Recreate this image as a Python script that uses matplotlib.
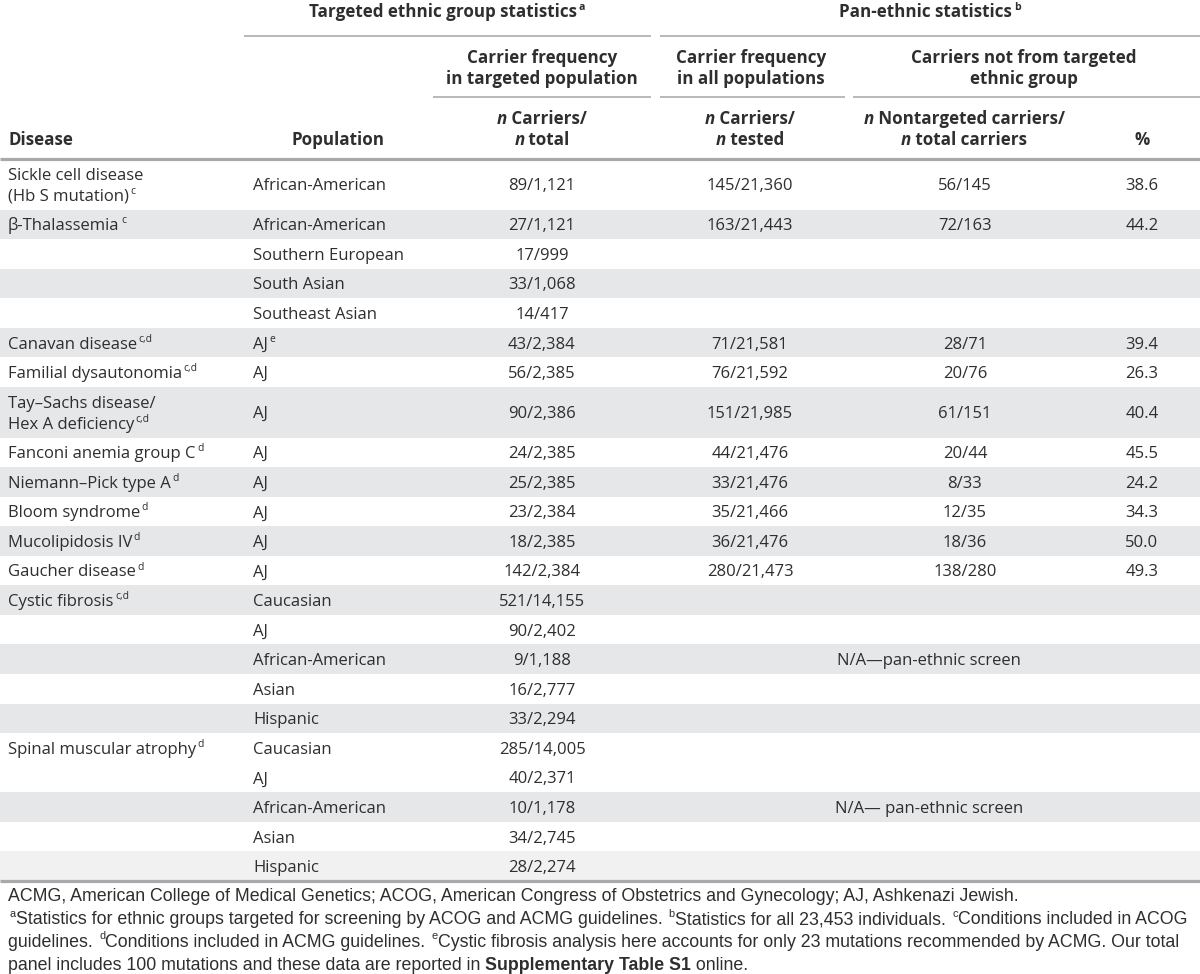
import matplotlib
matplotlib.use("Agg")
import matplotlib.pyplot as plt
from matplotlib.patches import Rectangle

# ---------------- data ----------------
diseases = ["Sickle cell disease\n(Hb S mutation)", "β-Thalassemia", "", "", "",
            "Canavan disease", "Familial dysautonomia", "Tay–Sachs disease/\nHex A deficiency",
            "Fanconi anemia group C", "Niemann–Pick type A", "Bloom syndrome",
            "Mucolipidosis IV", "Gaucher disease", "Cystic fibrosis", "", "", "", "",
            "Spinal muscular atrophy", "", "", "", ""]
disease_notes = ["c", "c", "", "", "", "c,d", "c,d", "c,d", "d", "d", "d", "d", "d",
                 "c,d", "", "", "", "", "d", "", "", "", ""]
populations = ["African-American", "African-American", "Southern European", "South Asian",
               "Southeast Asian", "AJ", "AJ", "AJ", "AJ", "AJ", "AJ", "AJ", "AJ",
               "Caucasian", "AJ", "African-American", "Asian", "Hispanic",
               "Caucasian", "AJ", "African-American", "Asian", "Hispanic"]
population_notes = ["", "", "", "", "", "e"] + [""] * 17
targeted_freq = ["89/1,121", "27/1,121", "17/999", "33/1,068", "14/417", "43/2,384",
                 "56/2,385", "90/2,386", "24/2,385", "25/2,385", "23/2,384", "18/2,385",
                 "142/2,384", "521/14,155", "90/2,402", "9/1,188", "16/2,777", "33/2,294",
                 "285/14,005", "40/2,371", "10/1,178", "34/2,745", "28/2,274"]
all_pop_freq = ["145/21,360", "163/21,443", "", "", "", "71/21,581", "76/21,592",
                "151/21,985", "44/21,476", "33/21,476", "35/21,466", "36/21,476",
                "280/21,473"] + [""] * 10
nontargeted = ["56/145", "72/163", "", "", "", "28/71", "20/76", "61/151", "20/44",
               "8/33", "12/35", "18/36", "138/280"] + [""] * 10
percent = ["38.6", "44.2", "", "", "", "39.4", "26.3", "40.4", "45.5", "24.2", "34.3",
           "50.0", "49.3"] + [""] * 10
na_text = {15: "N/A—pan-ethnic screen", 20: "N/A— pan-ethnic screen"}
shading = [0, 1, 0, 1, 0, 1, 0, 1, 0, 1, 0, 1, 0, 1, 0, 1, 0, 1, 0, 0, 1, 0, 2]

footnote_lines = [
    [("ACMG, American College of Medical Genetics; ACOG, American Congress of Obstetrics and Gynecology; AJ, Ashkenazi Jewish.", "n")],
    [("a", "s"), ("Statistics for ethnic groups targeted for screening by ACOG and ACMG guidelines. ", "n"),
     ("b", "s"), ("Statistics for all 23,453 individuals. ", "n"),
     ("c", "s"), ("Conditions included in ACOG", "n")],
    [("guidelines. ", "n"), ("d", "s"), ("Conditions included in ACMG guidelines. ", "n"),
     ("e", "s"), ("Cystic fibrosis analysis here accounts for only 23 mutations recommended by ACMG. Our total", "n")],
    [("panel includes 100 mutations and these data are reported in ", "n"),
     ("Supplementary Table S1", "b"), (" online.", "n")],
]

# ---------------- layout / style ----------------
W, H, DPI = 1200, 974, 100
BODY_FONT = ["Open Sans", "DejaVu Sans"]
NOTE_FONT = ["Liberation Sans", "DejaVu Sans"]
TXT = "#2e2e2e"
SHADE = {1: "#e6e7e8", 2: "#f1f1f2"}
RULE = "#a7a9ac"
PX = 72.0 / DPI  # points per pixel

BODY_PX = 16.6
HEAD_PX = 17.0
NOTE_PX = 17.8

fig = plt.figure(figsize=(W / DPI, H / DPI), dpi=DPI)
ax = fig.add_axes([0, 0, 1, 1])
ax.set_xlim(0, W)
ax.set_ylim(H, 0)
ax.axis("off")
renderer = fig.canvas.get_renderer()


def _props(kind, size_px, family):
    p = dict(family=family, fontsize=size_px * PX, color=TXT)
    if kind == "b":
        p["fontweight"] = "bold"
    elif kind == "i":
        p["fontstyle"] = "italic"
    elif kind == "bi":
        p["fontweight"] = "bold"
        p["fontstyle"] = "italic"
    return p


def _width(s, props):
    t1 = ax.text(0, 0, "|" + s + "|", **props)
    t2 = ax.text(0, 0, "||", **props)
    w = t1.get_window_extent(renderer).width - t2.get_window_extent(renderer).width
    t1.remove()
    t2.remove()
    return w


def draw_runs(x, yc, runs, size_px=BODY_PX, ha="left", family=BODY_FONT, base="n"):
    """runs: list of (text, kind) kind in n,b,i,bi,s (superscript)."""
    items = []
    total = 0.0
    for s, kind in runs:
        if kind == "s":
            props = _props("b" if base == "b" else "n", size_px * 0.62, family)
            w = _width(s, props) + 1.5
        else:
            props = _props(kind, size_px, family)
            w = _width(s, props)
        items.append((s, kind, props, w))
        total += w
    if ha == "center":
        x0 = x - total / 2.0
    elif ha == "right":
        x0 = x - total
    else:
        x0 = x
    baseline = yc + 0.357 * size_px
    cur = x0
    for s, kind, props, w in items:
        if kind == "s":
            ax.text(cur + 1.5, baseline - 0.42 * size_px, s, ha="left", va="baseline", **props)
        else:
            ax.text(cur, baseline, s, ha="left", va="baseline", **props)
        cur += w


def hline(y, x0, x1, lw_px):
    ax.plot([x0, x1], [y, y], color=RULE, lw=lw_px * PX, solid_capstyle="butt")


# ---------------- header ----------------
draw_runs(447, 11, [("Targeted ethnic group statistics", "b"), ("a", "s")], size_px=HEAD_PX, ha="center", base="b")
draw_runs(930, 11, [("Pan-ethnic statistics", "b"), ("b", "s")], size_px=HEAD_PX, ha="center", base="b")
hline(36, 244, 651, 1.6)
hline(36, 660, W, 1.6)

draw_runs(542, 57, [("Carrier frequency", "b")], size_px=HEAD_PX, ha="center")
draw_runs(542, 78, [("in targeted population", "b")], size_px=HEAD_PX, ha="center")
draw_runs(751, 57, [("Carrier frequency", "b")], size_px=HEAD_PX, ha="center")
draw_runs(751, 78, [("in all populations", "b")], size_px=HEAD_PX, ha="center")
draw_runs(1024, 57, [("Carriers not from targeted", "b")], size_px=HEAD_PX, ha="center")
draw_runs(1024, 78, [("ethnic group", "b")], size_px=HEAD_PX, ha="center")
hline(97, 433, 651, 1.6)
hline(97, 660, 845, 1.6)
hline(97, 853, W, 1.6)

draw_runs(8, 139, [("Disease", "b")], size_px=HEAD_PX)
draw_runs(338, 139, [("Population", "b")], size_px=HEAD_PX, ha="center")
draw_runs(542, 118, [("n", "bi"), (" Carriers/", "b")], size_px=HEAD_PX, ha="center")
draw_runs(542, 139, [("n", "bi"), (" total", "b")], size_px=HEAD_PX, ha="center")
draw_runs(750, 118, [("n", "bi"), (" Carriers/", "b")], size_px=HEAD_PX, ha="center")
draw_runs(750, 139, [("n", "bi"), (" tested", "b")], size_px=HEAD_PX, ha="center")
draw_runs(964, 118, [("n", "bi"), (" Nontargeted carriers/", "b")], size_px=HEAD_PX, ha="center")
draw_runs(964, 139, [("n", "bi"), (" total carriers", "b")], size_px=HEAD_PX, ha="center")
draw_runs(1142, 139, [("%", "b")], size_px=HEAD_PX, ha="center")

# ---------------- body ----------------
TOP, BOTTOM = 159.0, 881.0
n_lines = [d.count("\n") + 1 for d in diseases]
EXTRA = 21.0
h1 = (BOTTOM - TOP - EXTRA * sum(n - 1 for n in n_lines)) / len(n_lines)

y = TOP
for i in range(len(diseases)):
    h = h1 + EXTRA * (n_lines[i] - 1)
    if shading[i]:
        ax.add_patch(Rectangle((0, y), W, h, facecolor=SHADE[shading[i]], edgecolor="none", zorder=0))
    yc = y + h / 2.0
    if diseases[i]:
        lines = diseases[i].split("\n")
        ly0 = yc - EXTRA * (len(lines) - 1) / 2.0
        for k, ln in enumerate(lines):
            runs = [(ln, "n")]
            if k == len(lines) - 1 and disease_notes[i]:
                runs.append((disease_notes[i], "s"))
            draw_runs(8, ly0 + EXTRA * k, runs)
    pruns = [(populations[i], "n")]
    if population_notes[i]:
        pruns.append((population_notes[i], "s"))
    draw_runs(253, yc, pruns)
    draw_runs(542, yc, [(targeted_freq[i], "n")], ha="center")
    if all_pop_freq[i]:
        draw_runs(750, yc, [(all_pop_freq[i], "n")], ha="center")
        draw_runs(965, yc, [(nontargeted[i], "n")], ha="center")
        draw_runs(1142, yc, [(percent[i], "n")], ha="center")
    if i in na_text:
        draw_runs(929, yc, [(na_text[i], "n")], ha="center")
    y += h

hline(TOP, 0, W, 3.2)
hline(BOTTOM, 0, W, 3.2)

# ---------------- footnotes ----------------
for j, runs in enumerate(footnote_lines):
    draw_runs(8, 895 + 22.8 * j, runs, size_px=NOTE_PX, family=NOTE_FONT)

fig.savefig("out.png", dpi=DPI)
